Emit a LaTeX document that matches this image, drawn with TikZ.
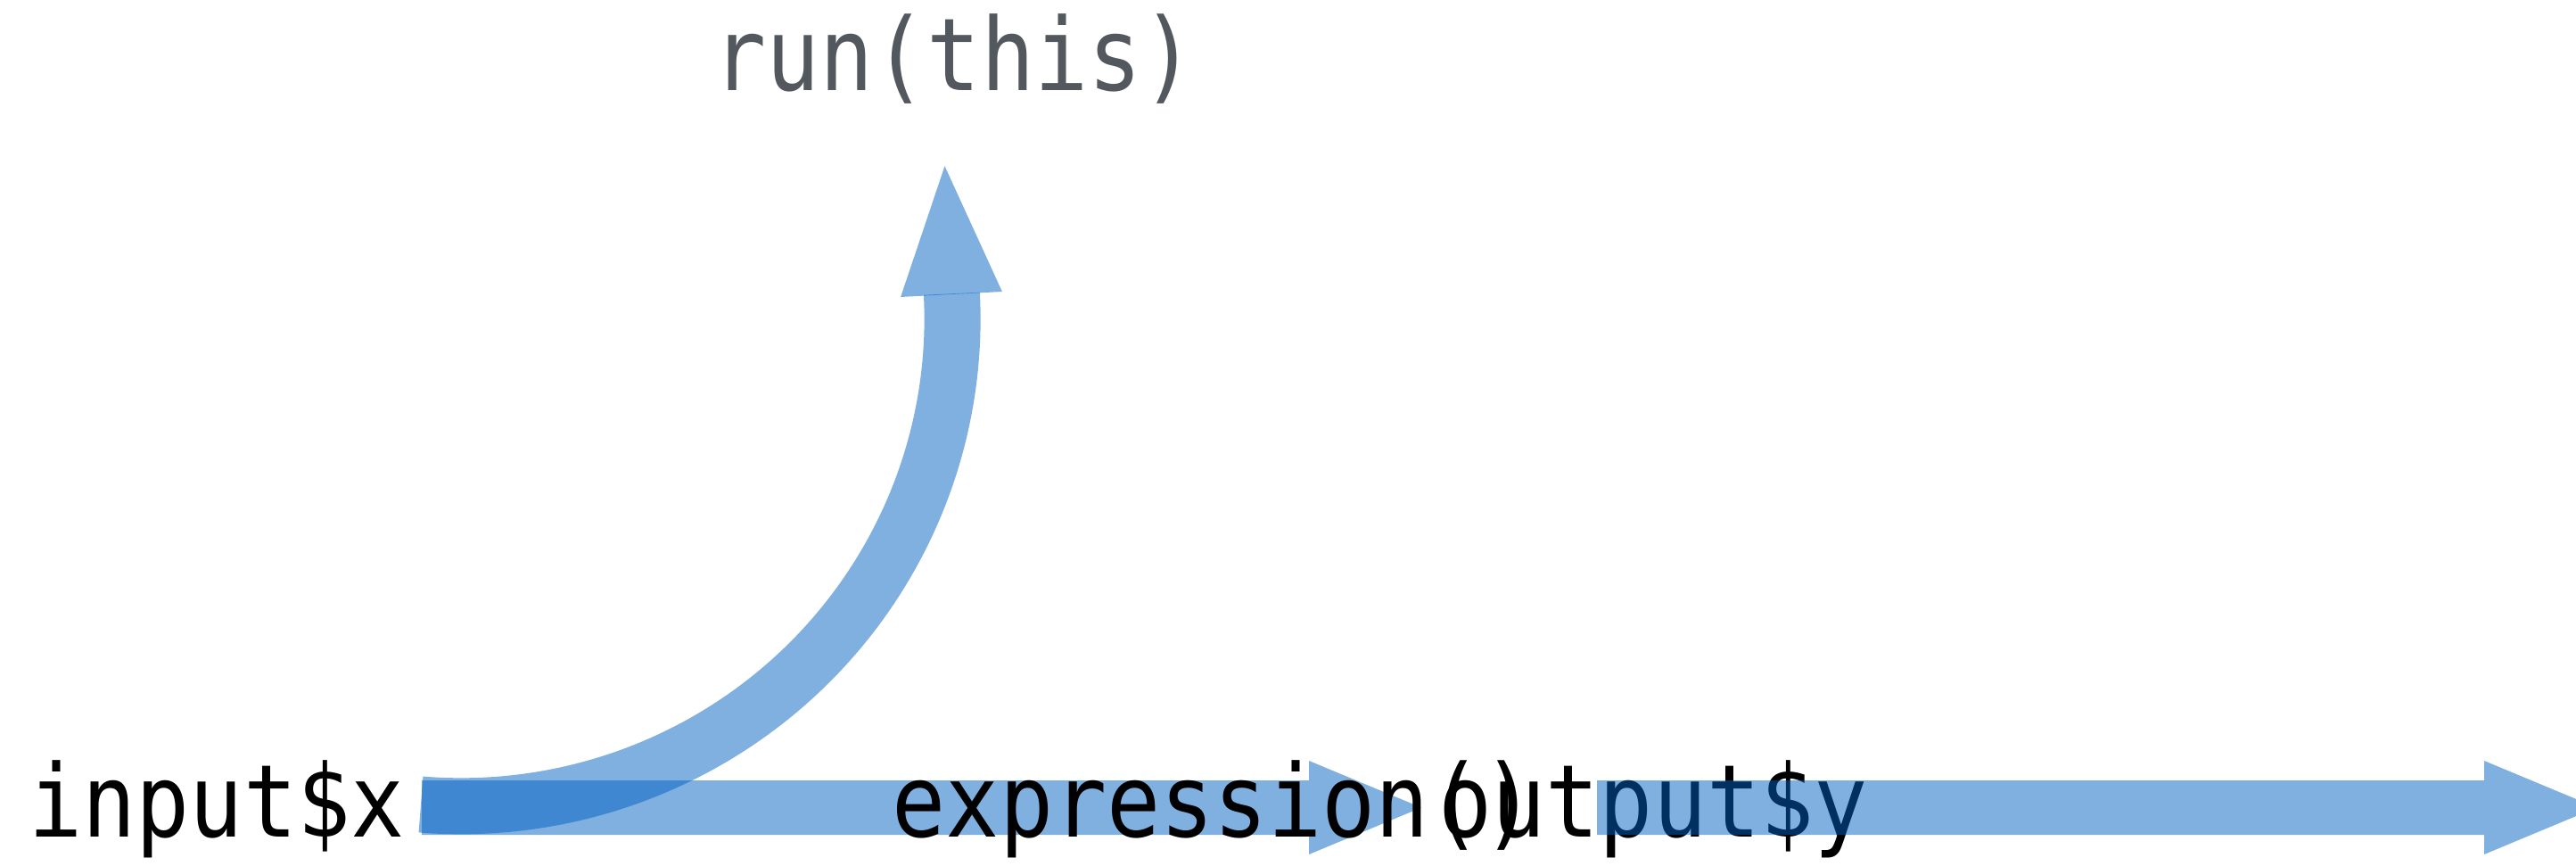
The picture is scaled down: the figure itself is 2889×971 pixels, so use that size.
\documentclass[tikz,border=0pt]{standalone}
\usepackage{fontspec}
\usepackage{graphicx}
\usetikzlibrary{calc}
\newfontfamily\codefont{DejaVu Sans Mono}
\definecolor{flowblue}{RGB}{0,97,194}
\definecolor{callgray}{RGB}{83,87,94}
% monospaced label, drawn slightly taller than the font's own proportions
\newcommand{\tallcode}[1]{\scalebox{1}[1.13]{#1}}
\begin{document}
\begin{tikzpicture}[x=0.25pt,y=-0.25pt,
  code/.style={font=\codefont\fontsize{25}{30}\selectfont, inner sep=0pt, anchor=base},
  flow/.style={fill=flowblue, fill opacity=0.5, draw=none},
  bendshaft/.style={draw=flowblue, draw opacity=0.5, line width=15.75pt, line cap=butt}]
\useasboundingbox (0,0) rectangle (2889,971);
\clip (0,0) rectangle (2889,971);

% curved arrow rising from the input towards the call
\coordinate (src) at (472,902);
\draw[bendshaft] (src) arc[start angle=94.7, end angle=-3, x radius=551, y radius=546] coordinate (bendtop);
\fill[flow] (1010.1,333.0) -- (1059.5,186.2) -- (1123.9,327.0) -- cycle;

% first straight arrow: input -> expression
\coordinate (t1) at (473,905.5);
\coordinate (h1) at (1594,905.5);
\fill[flow] ($(t1)+(0,-30.5)$) -- ($(h1)+(-126,-30.5)$) -- ++(0,-22) -- (h1)
  -- ($(h1)+(-126,52.5)$) -- ++(0,-22) -- ($(t1)+(0,30.5)$) -- cycle;

% labels
\node[code, text=callgray] (call) at (1070,102) {\tallcode{run(this)}};
\node[code] (inp) at (243,938) {\tallcode{input\$x}};
\node[code] (expr) at (1362,938) {\tallcode{expression()}};
\node[code] (outp) at (1854,938) {\tallcode{output\$y}};

% second straight arrow: output, laid over its label
\coordinate (t2) at (1791,905.5);
\coordinate (h2) at (2912,905.5);
\fill[flow] ($(t2)+(0,-30.5)$) -- ($(h2)+(-126,-30.5)$) -- ++(0,-22) -- (h2)
  -- ($(h2)+(-126,52.5)$) -- ++(0,-22) -- ($(t2)+(0,30.5)$) -- cycle;
\end{tikzpicture}
\end{document}
